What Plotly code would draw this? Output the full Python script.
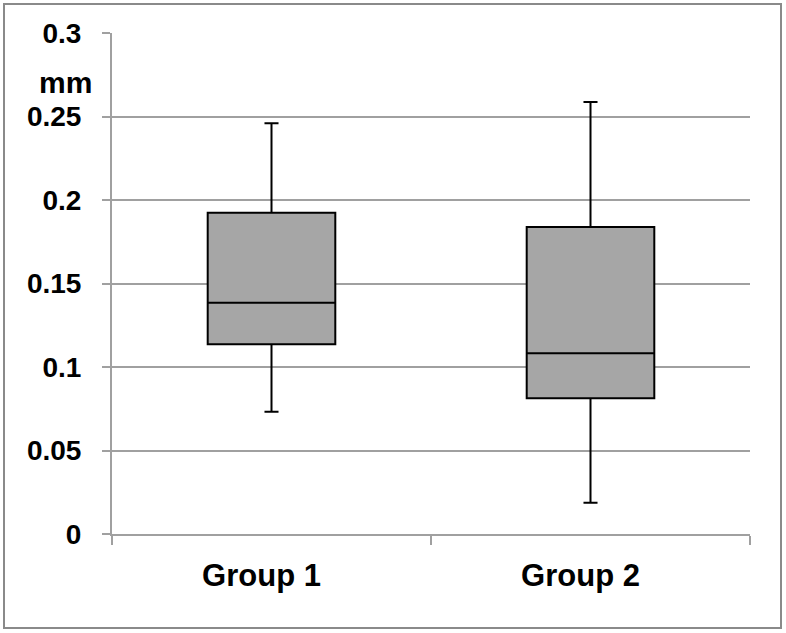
import plotly.graph_objects as go

categories = ["Group 1", "Group 2"]
q1 = [0.1136, 0.0813]
median = [0.1385, 0.1082]
q3 = [0.1924, 0.1838]
lowerfence = [0.0732, 0.0187]
upperfence = [0.2459, 0.2587]
y_ticks = [0, 0.05, 0.1, 0.15, 0.2, 0.25, 0.3]
y_ticktext = ["0", "0.05", "0.1", "0.15", "0.2", "0.25", "0.3"]
unit_label = "mm"

W, H = 786, 633
L, R, T, B = 112, 36, 33, 99
pw, ph = W - L - R, H - T - B

def px_to_paper_x(px):
    return (px - L) / pw

def px_to_paper_y(py):
    return (H - B - py) / ph

font_family = "Liberation Sans, Arial, sans-serif"
grid = "#a0a0a0"

fig = go.Figure()
fig.add_trace(go.Box(
    x=categories,
    q1=q1, median=median, q3=q3,
    lowerfence=lowerfence, upperfence=upperfence,
    fillcolor="#a6a6a6",
    line=dict(color="#000000", width=2),
    whiskerwidth=0.11,
    width=0.4,
    boxpoints=False,
    hoverinfo="skip",
    showlegend=False,
))

fig.update_layout(
    width=W, height=H,
    margin=dict(l=L, r=R, t=T, b=B, pad=0),
    paper_bgcolor="white", plot_bgcolor="white",
    font=dict(family=font_family, size=30, color="black"),
    xaxis=dict(
        type="category",
        range=[-0.5, 1.5],
        tickson="boundaries",
        ticks="outside", ticklen=9, tickwidth=2, tickcolor=grid,
        showline=True, linecolor=grid, linewidth=2,
        showgrid=False,
        tickfont=dict(family=font_family, size=31, color="black", weight="bold"),
        ticklabelstandoff=13,
        ticklabelshift=-10,
    ),
    yaxis=dict(
        range=[0, 0.3],
        tickvals=y_ticks, ticktext=y_ticktext,
        ticks="outside", ticklen=8, tickwidth=2, tickcolor=grid,
        showline=True, linecolor=grid, linewidth=2,
        showgrid=True, gridcolor=grid, gridwidth=2,
        zeroline=False,
        tickfont=dict(family=font_family, size=28, color="black", weight="bold"),
        ticklabelstandoff=15,
    ),
    shapes=[dict(
        type="rect", xref="paper", yref="paper",
        x0=px_to_paper_x(4), x1=px_to_paper_x(781),
        y0=px_to_paper_y(628), y1=px_to_paper_y(4),
        line=dict(color="#8a8a8a", width=2), fillcolor="rgba(0,0,0,0)",
        layer="below",
    )],
    annotations=[dict(
        text=unit_label, xref="paper", yref="paper",
        x=px_to_paper_x(94), y=px_to_paper_y(83),
        xanchor="right", yanchor="middle", showarrow=False,
        font=dict(family=font_family, size=30, color="black", weight="bold"),
    )],
)

fig.write_html(
    "out.html",
    config={"displayModeBar": False},
    post_script="document.body.style.margin='0px';document.body.style.overflow='hidden';",
)
